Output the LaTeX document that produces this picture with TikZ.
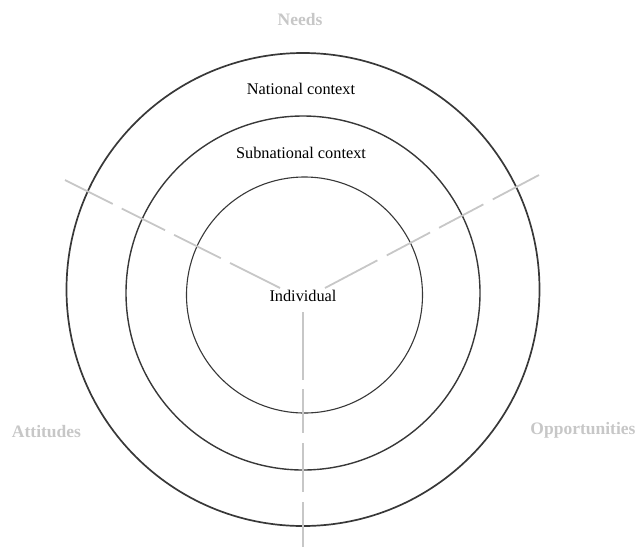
\documentclass[tikz,border=0pt]{standalone}
\usepackage{fontspec}
\setmainfont{Liberation Serif}
\begin{document}
\begin{tikzpicture}[x=1pt,y=-1pt,
  ring/.style={draw=black!78},
  ctxlabel/.style={font=\fontsize{16.3}{18}\selectfont, text=black, inner sep=0pt},
  dimlabel/.style={font=\fontsize{17.5}{20}\selectfont\bfseries, text=black!22, inner sep=0pt},
  axis/.style={draw=black!22, line width=1.8pt}]
\useasboundingbox (0,0) rectangle (635,547);
% rings
\draw[ring, line width=1.7pt] (303,289.5) circle [radius=236.5pt];
\draw[ring, line width=1.4pt] (303,293) circle [radius=177pt];
\draw[ring, line width=1.1pt] (304.5,295) circle [radius=118pt];
% labels
\node[ctxlabel] (nat) at (301,89) {National context};
\node[ctxlabel] (sub) at (301,153) {Subnational context};
\node[ctxlabel] (ind) at (303,296) {Individual};
\node[dimlabel] (needs) at (300,20) {Needs};
\node[dimlabel] (att) at (46.5,432) {Attitudes};
\node[dimlabel] (opp) at (583,430) {Opportunities};
% axis coordinates
\coordinate (lstart) at (280,288);
\coordinate (lend) at (65,180);
\coordinate (rstart) at (325,288);
\coordinate (rend) at (539,175);
\coordinate (vstart) at (303,312);
\coordinate (vend) at (303,547);
% dashed axes
\draw[axis, dash pattern=on 55.9pt off 10.4pt on 52.2pt off 10.1pt on 48.5pt off 10.1pt on 60pt off 10pt] (lstart) -- (lend);
\draw[axis, dash pattern=on 59.2pt off 10.6pt on 49pt off 10.2pt on 50.1pt off 10.6pt on 60pt off 10pt] (rstart) -- (rend);
\draw[axis, dash pattern=on 68pt off 9pt on 44pt off 10pt on 49pt off 10pt on 60pt off 10pt] (vstart) -- (vend);
\end{tikzpicture}
\end{document}
